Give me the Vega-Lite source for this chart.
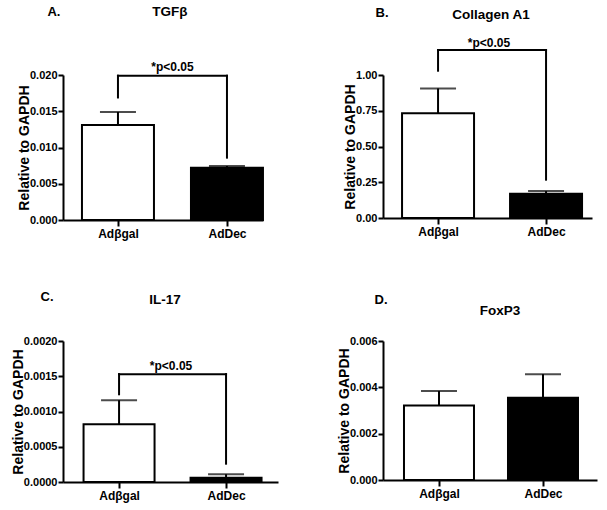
{
  "$schema": "https://vega.github.io/schema/vega-lite/v6.json",
  "padding": {"left": 11, "top": 5, "right": 5, "bottom": 5},
  "datasets": {
    "bars": [
      {"panel": "A", "group": "Adβgal", "mean": 0.0131, "upper": 0.0149},
      {"panel": "A", "group": "AdDec", "mean": 0.0072, "upper": 0.00745},
      {"panel": "B", "group": "Adβgal", "mean": 0.733, "upper": 0.906},
      {"panel": "B", "group": "AdDec", "mean": 0.17, "upper": 0.188},
      {"panel": "C", "group": "Adβgal", "mean": 0.00082, "upper": 0.00116},
      {"panel": "C", "group": "AdDec", "mean": 0.00006, "upper": 0.00011},
      {"panel": "D", "group": "Adβgal", "mean": 0.00322, "upper": 0.00384},
      {"panel": "D", "group": "AdDec", "mean": 0.00355, "upper": 0.00457}
    ]
  },
  "columns": 2,
  "bounds": "flush",
  "spacing": {"row": 121, "column": 105},
  "concat": [
    {
      "width": 200, "height": 145,
      "layer": [
        {
          "data": {"name": "bars"},
          "transform": [{"filter": "datum.panel === 'A'"}],
          "layer": [
            {"mark": {"type": "bar", "orient": "vertical", "width": 72, "stroke": "black", "strokeWidth": 2},
             "encoding": {
               "x": {"field": "group", "type": "nominal", "title": null, "scale": {"type": "point", "domain": ["Adβgal", "AdDec"], "padding": 0.4174, "align": 0.604}, "axis": {"labelAngle": 0}},
               "y": {"field": "mean", "type": "quantitative", "title": "Relative to GAPDH", "stack": null, "scale": {"domain": [0, 0.02], "nice": false}, "axis": {"values": [0, 0.005, 0.01, 0.015, 0.02], "format": ".3f"}},
               "fill": {"field": "group", "type": "nominal", "scale": {"domain": ["Adβgal", "AdDec"], "range": ["white", "black"]}, "legend": null}
             }},
            {"mark": {"type": "rule", "strokeWidth": 2, "color": "black"},
             "encoding": {"x": {"field": "group", "type": "nominal", "title": null}, "y": {"field": "mean", "type": "quantitative", "title": "Relative to GAPDH", "axis": {"values": [0, 0.005, 0.01, 0.015, 0.02], "format": ".3f"}}, "y2": {"field": "upper"}}},
            {"mark": {"type": "tick", "orient": "horizontal", "size": 36, "thickness": 2, "color": "black"},
             "encoding": {"x": {"field": "group", "type": "nominal", "title": null}, "y": {"field": "upper", "type": "quantitative", "title": "Relative to GAPDH", "axis": {"values": [0, 0.005, 0.01, 0.015, 0.02], "format": ".3f"}}}}
          ]
        },
        {"data": {"values": [{}]}, "mark": {"type": "rule", "strokeWidth": 2, "color": "black", "strokeCap": "square"},
         "encoding": {"x": {"datum": "Adβgal"}, "x2": {"datum": "AdDec"}, "y": {"datum": 0.0199, "title": "Relative to GAPDH", "axis": {"values": [0, 0.005, 0.01, 0.015, 0.02], "format": ".3f"}}}},
        {"data": {"values": [{}]}, "mark": {"type": "rule", "strokeWidth": 2, "color": "black", "strokeCap": "square"},
         "encoding": {"x": {"datum": "Adβgal"}, "y": {"datum": 0.0169, "title": "Relative to GAPDH", "axis": {"values": [0, 0.005, 0.01, 0.015, 0.02], "format": ".3f"}}, "y2": {"datum": 0.0199}}},
        {"data": {"values": [{}]}, "mark": {"type": "rule", "strokeWidth": 2, "color": "black", "strokeCap": "square"},
         "encoding": {"x": {"datum": "AdDec"}, "y": {"datum": 0.0086, "title": "Relative to GAPDH", "axis": {"values": [0, 0.005, 0.01, 0.015, 0.02], "format": ".3f"}}, "y2": {"datum": 0.0199}}},
        {"data": {"values": [{}]}, "mark": {"type": "text", "text": "*p<0.05", "fontSize": 12, "fontWeight": "bold", "baseline": "alphabetic", "dx": 54.5},
         "encoding": {"x": {"datum": "Adβgal"}, "y": {"datum": 0.0205, "title": "Relative to GAPDH", "axis": {"values": [0, 0.005, 0.01, 0.015, 0.02], "format": ".3f"}}}},
        {"data": {"values": [{}]}, "mark": {"type": "text", "text": "A.", "fontSize": 13, "fontWeight": "bold", "baseline": "middle", "dx": -64},
         "encoding": {"x": {"datum": "Adβgal"}, "y": {"datum": 0.02866, "title": "Relative to GAPDH", "axis": {"values": [0, 0.005, 0.01, 0.015, 0.02], "format": ".3f"}}}},
        {"data": {"values": [{}]}, "mark": {"type": "text", "text": "TGFβ", "fontSize": 13.5, "fontWeight": "bold", "baseline": "middle", "dx": 52},
         "encoding": {"x": {"datum": "Adβgal"}, "y": {"datum": 0.02866, "title": "Relative to GAPDH", "axis": {"values": [0, 0.005, 0.01, 0.015, 0.02], "format": ".3f"}}}}
      ]
    },
    {
      "width": 209, "height": 143,
      "layer": [
        {
          "data": {"name": "bars"},
          "transform": [{"filter": "datum.panel === 'B'"}],
          "layer": [
            {"mark": {"type": "bar", "orient": "vertical", "width": 72, "stroke": "black", "strokeWidth": 2},
             "encoding": {
               "x": {"field": "group", "type": "nominal", "title": null, "scale": {"type": "point", "domain": ["Adβgal", "AdDec"], "padding": 0.4676, "align": 0.545}, "axis": {"labelAngle": 0}},
               "y": {"field": "mean", "type": "quantitative", "title": "Relative to GAPDH", "stack": null, "scale": {"domain": [0, 1], "nice": false}, "axis": {"values": [0, 0.25, 0.5, 0.75, 1], "format": ".2f"}},
               "fill": {"field": "group", "type": "nominal", "scale": {"domain": ["Adβgal", "AdDec"], "range": ["white", "black"]}, "legend": null}
             }},
            {"mark": {"type": "rule", "strokeWidth": 2, "color": "black"},
             "encoding": {"x": {"field": "group", "type": "nominal", "title": null}, "y": {"field": "mean", "type": "quantitative", "title": "Relative to GAPDH", "axis": {"values": [0, 0.25, 0.5, 0.75, 1], "format": ".2f"}}, "y2": {"field": "upper"}}},
            {"mark": {"type": "tick", "orient": "horizontal", "size": 36, "thickness": 2, "color": "black"},
             "encoding": {"x": {"field": "group", "type": "nominal", "title": null}, "y": {"field": "upper", "type": "quantitative", "title": "Relative to GAPDH", "axis": {"values": [0, 0.25, 0.5, 0.75, 1], "format": ".2f"}}}}
          ]
        },
        {"data": {"values": [{}]}, "mark": {"type": "rule", "strokeWidth": 2, "color": "black", "strokeCap": "square"},
         "encoding": {"x": {"datum": "Adβgal"}, "x2": {"datum": "AdDec"}, "y": {"datum": 1.175, "title": "Relative to GAPDH", "axis": {"values": [0, 0.25, 0.5, 0.75, 1], "format": ".2f"}}}},
        {"data": {"values": [{}]}, "mark": {"type": "rule", "strokeWidth": 2, "color": "black", "strokeCap": "square"},
         "encoding": {"x": {"datum": "Adβgal"}, "y": {"datum": 1.03, "title": "Relative to GAPDH", "axis": {"values": [0, 0.25, 0.5, 0.75, 1], "format": ".2f"}}, "y2": {"datum": 1.175}}},
        {"data": {"values": [{}]}, "mark": {"type": "rule", "strokeWidth": 2, "color": "black", "strokeCap": "square"},
         "encoding": {"x": {"datum": "AdDec"}, "y": {"datum": 0.268, "title": "Relative to GAPDH", "axis": {"values": [0, 0.25, 0.5, 0.75, 1], "format": ".2f"}}, "y2": {"datum": 1.175}}},
        {"data": {"values": [{}]}, "mark": {"type": "text", "text": "*p<0.05", "fontSize": 12, "fontWeight": "bold", "baseline": "alphabetic", "dx": 51},
         "encoding": {"x": {"datum": "Adβgal"}, "y": {"datum": 1.197, "title": "Relative to GAPDH", "axis": {"values": [0, 0.25, 0.5, 0.75, 1], "format": ".2f"}}}},
        {"data": {"values": [{}]}, "mark": {"type": "text", "text": "B.", "fontSize": 13, "fontWeight": "bold", "baseline": "middle", "dx": -56},
         "encoding": {"x": {"datum": "Adβgal"}, "y": {"datum": 1.437, "title": "Relative to GAPDH", "axis": {"values": [0, 0.25, 0.5, 0.75, 1], "format": ".2f"}}}},
        {"data": {"values": [{}]}, "mark": {"type": "text", "text": "Collagen A1", "fontSize": 13.5, "fontWeight": "bold", "baseline": "middle", "dx": 53},
         "encoding": {"x": {"datum": "Adβgal"}, "y": {"datum": 1.423, "title": "Relative to GAPDH", "axis": {"values": [0, 0.25, 0.5, 0.75, 1], "format": ".2f"}}}}
      ]
    },
    {
      "width": 215, "height": 141,
      "layer": [
        {
          "data": {"name": "bars"},
          "transform": [{"filter": "datum.panel === 'C'"}],
          "layer": [
            {"mark": {"type": "bar", "orient": "vertical", "width": 71, "stroke": "black", "strokeWidth": 2},
             "encoding": {
               "x": {"field": "group", "type": "nominal", "title": null, "scale": {"type": "point", "domain": ["Adβgal", "AdDec"], "padding": 0.5047, "align": 0.519}, "axis": {"labelAngle": 0}},
               "y": {"field": "mean", "type": "quantitative", "title": "Relative to GAPDH", "stack": null, "scale": {"domain": [0, 0.002], "nice": false}, "axis": {"values": [0, 0.0005, 0.001, 0.0015, 0.002], "format": ".4f"}},
               "fill": {"field": "group", "type": "nominal", "scale": {"domain": ["Adβgal", "AdDec"], "range": ["white", "black"]}, "legend": null}
             }},
            {"mark": {"type": "rule", "strokeWidth": 2, "color": "black"},
             "encoding": {"x": {"field": "group", "type": "nominal", "title": null}, "y": {"field": "mean", "type": "quantitative", "title": "Relative to GAPDH", "axis": {"values": [0, 0.0005, 0.001, 0.0015, 0.002], "format": ".4f"}}, "y2": {"field": "upper"}}},
            {"mark": {"type": "tick", "orient": "horizontal", "size": 36, "thickness": 2, "color": "black"},
             "encoding": {"x": {"field": "group", "type": "nominal", "title": null}, "y": {"field": "upper", "type": "quantitative", "title": "Relative to GAPDH", "axis": {"values": [0, 0.0005, 0.001, 0.0015, 0.002], "format": ".4f"}}}}
          ]
        },
        {"data": {"values": [{}]}, "mark": {"type": "rule", "strokeWidth": 2, "color": "black", "strokeCap": "square"},
         "encoding": {"x": {"datum": "Adβgal"}, "x2": {"datum": "AdDec"}, "y": {"datum": 0.00153, "title": "Relative to GAPDH", "axis": {"values": [0, 0.0005, 0.001, 0.0015, 0.002], "format": ".4f"}}}},
        {"data": {"values": [{}]}, "mark": {"type": "rule", "strokeWidth": 2, "color": "black", "strokeCap": "square"},
         "encoding": {"x": {"datum": "Adβgal"}, "y": {"datum": 0.001244, "title": "Relative to GAPDH", "axis": {"values": [0, 0.0005, 0.001, 0.0015, 0.002], "format": ".4f"}}, "y2": {"datum": 0.00153}}},
        {"data": {"values": [{}]}, "mark": {"type": "rule", "strokeWidth": 2, "color": "black", "strokeCap": "square"},
         "encoding": {"x": {"datum": "AdDec"}, "y": {"datum": 0.00026, "title": "Relative to GAPDH", "axis": {"values": [0, 0.0005, 0.001, 0.0015, 0.002], "format": ".4f"}}, "y2": {"datum": 0.00153}}},
        {"data": {"values": [{}]}, "mark": {"type": "text", "text": "*p<0.05", "fontSize": 12, "fontWeight": "bold", "baseline": "alphabetic", "dx": 52},
         "encoding": {"x": {"datum": "Adβgal"}, "y": {"datum": 0.001589, "title": "Relative to GAPDH", "axis": {"values": [0, 0.0005, 0.001, 0.0015, 0.002], "format": ".4f"}}}},
        {"data": {"values": [{}]}, "mark": {"type": "text", "text": "C.", "fontSize": 13, "fontWeight": "bold", "baseline": "middle", "dx": -72},
         "encoding": {"x": {"datum": "Adβgal"}, "y": {"datum": 0.002624, "title": "Relative to GAPDH", "axis": {"values": [0, 0.0005, 0.001, 0.0015, 0.002], "format": ".4f"}}}},
        {"data": {"values": [{}]}, "mark": {"type": "text", "text": "IL-17", "fontSize": 13.5, "fontWeight": "bold", "baseline": "middle", "dx": 46},
         "encoding": {"x": {"datum": "Adβgal"}, "y": {"datum": 0.002582, "title": "Relative to GAPDH", "axis": {"values": [0, 0.0005, 0.001, 0.0015, 0.002], "format": ".4f"}}}}
      ]
    },
    {
      "width": 214, "height": 139,
      "layer": [
        {
          "data": {"name": "bars"},
          "transform": [{"filter": "datum.panel === 'D'"}],
          "layer": [
            {"mark": {"type": "bar", "orient": "vertical", "width": 70, "stroke": "black", "strokeWidth": 2},
             "encoding": {
               "x": {"field": "group", "type": "nominal", "title": null, "scale": {"type": "point", "domain": ["Adβgal", "AdDec"], "padding": 0.5288, "align": 0.509}, "axis": {"labelAngle": 0}},
               "y": {"field": "mean", "type": "quantitative", "title": "Relative to GAPDH", "stack": null, "scale": {"domain": [0, 0.006], "nice": false}, "axis": {"values": [0, 0.002, 0.004, 0.006], "format": ".3f"}},
               "fill": {"field": "group", "type": "nominal", "scale": {"domain": ["Adβgal", "AdDec"], "range": ["white", "black"]}, "legend": null}
             }},
            {"mark": {"type": "rule", "strokeWidth": 2, "color": "black"},
             "encoding": {"x": {"field": "group", "type": "nominal", "title": null}, "y": {"field": "mean", "type": "quantitative", "title": "Relative to GAPDH", "axis": {"values": [0, 0.002, 0.004, 0.006], "format": ".3f"}}, "y2": {"field": "upper"}}},
            {"mark": {"type": "tick", "orient": "horizontal", "size": 36, "thickness": 2, "color": "black"},
             "encoding": {"x": {"field": "group", "type": "nominal", "title": null}, "y": {"field": "upper", "type": "quantitative", "title": "Relative to GAPDH", "axis": {"values": [0, 0.002, 0.004, 0.006], "format": ".3f"}}}}
          ]
        },
        {"data": {"values": [{}]}, "mark": {"type": "text", "text": "D.", "fontSize": 13, "fontWeight": "bold", "baseline": "middle", "dx": -58},
         "encoding": {"x": {"datum": "Adβgal"}, "y": {"datum": 0.00775, "title": "Relative to GAPDH", "axis": {"values": [0, 0.002, 0.004, 0.006], "format": ".3f"}}}},
        {"data": {"values": [{}]}, "mark": {"type": "text", "text": "FoxP3", "fontSize": 13.5, "fontWeight": "bold", "baseline": "middle", "dx": 61},
         "encoding": {"x": {"datum": "Adβgal"}, "y": {"datum": 0.00731, "title": "Relative to GAPDH", "axis": {"values": [0, 0.002, 0.004, 0.006], "format": ".3f"}}}}
      ]
    }
  ],
  "config": {
    "font": "Liberation Sans",
    "view": {"stroke": null},
    "text": {"font": "Liberation Sans", "color": "black"},
    "axis": {"grid": false, "domainColor": "black", "domainWidth": 2, "tickColor": "black", "tickWidth": 2, "tickSize": 5, "labelColor": "black", "labelFont": "Liberation Sans", "labelFontWeight": "bold", "titleColor": "black", "titleFont": "Liberation Sans", "titleFontWeight": "bold"},
    "axisY": {"labelFontSize": 11, "labelPadding": 1, "titleFontSize": 14, "titlePadding": -2, "labelOverlap": false},
    "axisX": {"labelFontSize": 12, "labelPadding": 2, "labelFlush": false, "labelOverlap": false, "tickSize": 6}
  }
}
